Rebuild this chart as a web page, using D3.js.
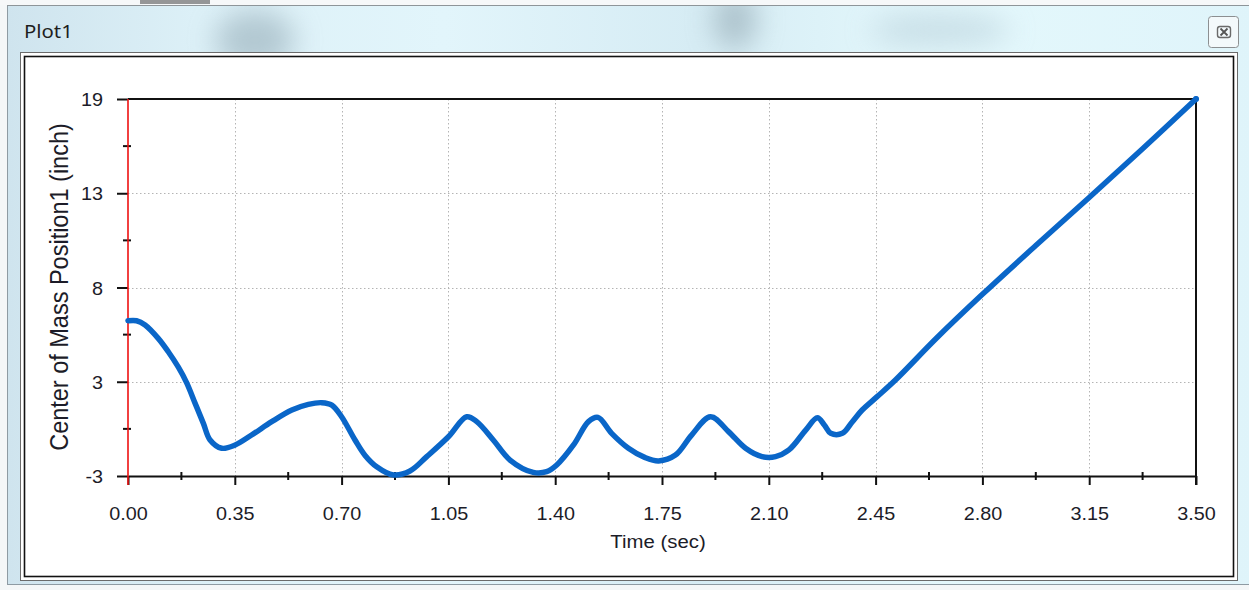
<!DOCTYPE html>
<html><head><meta charset="utf-8">
<script src="https://cdn.jsdelivr.net/npm/d3@7/dist/d3.min.js"></script>
<style>html,body{margin:0;padding:0;background:#fff;overflow:hidden}</style>
</head><body><svg id="c" width="1249" height="590"></svg>
<script>
// ---- data ----
const timeSec = [0.000,0.028,0.056,0.099,0.132,0.165,0.192,0.220,0.247,0.269,0.307,0.351,0.405,0.471,0.537,0.591,0.635,0.668,0.700,0.744,0.777,0.815,0.870,0.924,0.979,1.050,1.110,1.143,1.197,1.252,1.328,1.372,1.405,1.460,1.509,1.540,1.585,1.640,1.695,1.739,1.794,1.847,1.909,1.968,2.024,2.078,2.122,2.166,2.221,2.259,2.282,2.303,2.341,2.374,2.406,2.455,2.515,2.650,2.800,2.975,3.150,3.325,3.500];
const comPosition = [6.06,6.06,5.81,5.03,4.25,3.35,2.45,1.24,0.07,-0.90,-1.38,-1.19,-0.61,0.17,0.85,1.18,1.28,1.14,0.46,-0.90,-1.80,-2.46,-2.94,-2.71,-1.87,-0.71,0.46,0.17,-0.90,-2.07,-2.79,-2.75,-2.36,-1.19,0.17,0.42,-0.51,-1.38,-1.93,-2.12,-1.78,-0.61,0.46,-0.41,-1.38,-1.87,-1.87,-1.48,-0.32,0.40,-0.02,-0.51,-0.51,0.17,0.85,1.63,2.60,5.05,7.60,10.45,13.25,16.10,19.00];
const xTickValues = [0,0.35,0.70,1.05,1.40,1.75,2.10,2.45,2.80,3.15,3.50];
const xTickLabels = ["0.00","0.35","0.70","1.05","1.40","1.75","2.10","2.45","2.80","3.15","3.50"];
const yTickValues = [19,13.5,8,2.5,-3];
const yTickLabels = ["19","13","8","3","-3"];
const windowTitle = "Plot1";
const xTitle = "Time (sec)";
const yTitle = "Center of Mass Position1 (inch)";

// ---- drawing ----
const svg = d3.select("#c");
const W = 1249, H = 590;
const FONT = "Arial, 'Liberation Sans', sans-serif";
const SX = 1.1; // horizontal stretch of the screenshot text

const defs = svg.append("defs");
const g1 = defs.append("linearGradient").attr("id","glass").attr("x1",0).attr("x2",1).attr("y1",0).attr("y2",0);
[[0,"#cfe4ee"],[0.15,"#dcf0f7"],[0.35,"#e2f5fb"],[0.55,"#d6ecf4"],[0.75,"#e4f8fc"],[1,"#dff4fa"]]
  .forEach(([o,c])=>g1.append("stop").attr("offset",o).attr("stop-color",c));
defs.append("filter").attr("id","blur").attr("x","-50%").attr("y","-50%").attr("width","200%").attr("height","200%")
  .append("feGaussianBlur").attr("stdDeviation",14);

svg.append("rect").attr("width",W).attr("height",H).attr("fill","#f4f7f8");
// window frame
svg.append("rect").attr("x",7.5).attr("y",5.5).attr("width",W).attr("height",579).attr("fill","url(#glass)").attr("stroke","#8e9ba3");
const blobs = svg.append("g").attr("filter","url(#blur)").attr("opacity",0.55);
blobs.append("ellipse").attr("cx",255).attr("cy",40).attr("rx",40).attr("ry",30).attr("fill","#90a7b3");
blobs.append("ellipse").attr("cx",735).attr("cy",20).attr("rx",22).attr("ry",30).attr("fill","#8aa0ab");
blobs.append("ellipse").attr("cx",940).attr("cy",30).attr("rx",70).attr("ry",18).attr("fill","#b5cdd8");
svg.append("rect").attr("x",0).attr("y",0).attr("width",W).attr("height",5).attr("fill","#f6f8f9");
svg.append("rect").attr("x",140).attr("y",0).attr("width",70).attr("height",4).attr("fill","#555").attr("opacity",0.6);
svg.append("line").attr("x1",7).attr("x2",W).attr("y1",5.5).attr("y2",5.5).attr("stroke","#8e9599");

// title
svg.append("text").attr("transform",`translate(24,38) scale(${SX},1)`)
  .attr("font-family","'Segoe UI', 'Noto Sans', Arial, sans-serif").attr("font-size",18.5).attr("fill","#1e1e1e").text(windowTitle);

// close button
const cb = svg.append("g");
cb.append("rect").attr("x",1208.5).attr("y",16.5).attr("width",30).attr("height",31).attr("rx",3)
  .attr("fill","#f3f9fb").attr("stroke","#8c8f91");
cb.append("rect").attr("x",1217.5).attr("y",26.5).attr("width",13).attr("height",11).attr("rx",2.5)
  .attr("fill","none").attr("stroke","#6a6a6a").attr("stroke-width",1.4);
cb.append("path").attr("d","M1220.5,28.5 L1227.5,35.5 M1227.5,28.5 L1220.5,35.5").attr("stroke","#555").attr("stroke-width",1.8);

// panel with double border
svg.append("rect").attr("x",20.5).attr("y",52.5).attr("width",1217).attr("height",528).attr("fill","#fff").attr("stroke","#6b6b6b");
svg.append("rect").attr("x",24.5).attr("y",56.5).attr("width",1209).attr("height",520).attr("fill","#fff").attr("stroke","#111").attr("stroke-width",1.6);

// scales
const x = d3.scaleLinear().domain([0,3.5]).range([128,1196]);
const y = d3.scaleLinear().domain([-3,19]).range([476,99]);

// grid
const grid = svg.append("g").attr("stroke","#b4b4b4").attr("stroke-width",1).attr("stroke-dasharray","1.5,2.5");
grid.selectAll("line.v").data(xTickValues.slice(1,-1)).join("line")
  .attr("x1",d=>Math.round(x(d))+0.5).attr("x2",d=>Math.round(x(d))+0.5).attr("y1",y(19)).attr("y2",y(-3));
grid.selectAll("line.h").data(yTickValues.slice(1,-1)).join("line")
  .attr("y1",d=>Math.round(y(d))+0.5).attr("y2",d=>Math.round(y(d))+0.5).attr("x1",x(0)).attr("x2",x(3.5));

// minor ticks (midpoints)
const xMinor = xTickValues.slice(0,-1).map((v,i)=>(v+xTickValues[i+1])/2);
const yMinor = yTickValues.slice(0,-1).map((v,i)=>(v+yTickValues[i+1])/2);

// x axis
const xAxis = svg.append("g").attr("transform",`translate(0,${y(-3)})`)
  .call(d3.axisBottom(x).tickValues(xTickValues).tickSize(9).tickFormat((d,i)=>xTickLabels[i]).tickSizeOuter(0));
xAxis.select(".domain").attr("stroke","#111").attr("stroke-width",2);
xAxis.selectAll(".tick line").attr("stroke","#111").attr("stroke-width",2);
xAxis.selectAll(".tick text").attr("font-family",FONT).attr("font-size",18).attr("fill","#1c1c28")
  .attr("y",0).attr("dy",0).attr("transform",`translate(0,44) scale(${SX},1)`);
svg.append("g").selectAll("line").data(xMinor).join("line")
  .attr("x1",d=>x(d)).attr("x2",d=>x(d)).attr("y1",y(-3)-4).attr("y2",y(-3)+4).attr("stroke","#111").attr("stroke-width",2);

// y axis
const yAxis = svg.append("g").attr("transform",`translate(${x(0)},0)`)
  .call(d3.axisLeft(y).tickValues(yTickValues).tickSize(11).tickFormat((d,i)=>yTickLabels[i]).tickSizeOuter(0));
yAxis.select(".domain").remove();
yAxis.selectAll(".tick line").attr("stroke","#111").attr("stroke-width",2);
yAxis.selectAll(".tick text").attr("font-family",FONT).attr("font-size",18).attr("fill","#1c1c28")
  .attr("x",0).attr("dy",0).attr("text-anchor","end").attr("transform",`translate(-25,6.5) scale(${SX},1)`);
svg.append("g").selectAll("line").data(yMinor).join("line")
  .attr("y1",d=>y(d)).attr("y2",d=>y(d)).attr("x1",x(0)-5).attr("x2",x(0)+3).attr("stroke","#111").attr("stroke-width",2);

// top and right border
svg.append("line").attr("x1",x(0)).attr("x2",x(3.5)).attr("y1",y(19)).attr("y2",y(19)).attr("stroke","#111").attr("stroke-width",2);
svg.append("line").attr("x1",x(3.5)).attr("x2",x(3.5)).attr("y1",y(19)).attr("y2",y(-3)+9).attr("stroke","#111").attr("stroke-width",2);
// red y axis line
svg.append("line").attr("x1",x(0)).attr("x2",x(0)).attr("y1",y(19)).attr("y2",y(-3)+9).attr("stroke","#ee1111").attr("stroke-width",1.6);

// axis titles
svg.append("text").attr("transform",`translate(658,548) scale(${SX},1)`).attr("text-anchor","middle")
  .attr("font-family",FONT).attr("font-size",18.5).attr("fill","#1c1c28").text(xTitle);
svg.append("text").attr("transform",`translate(68,287) rotate(-90) scale(1,${SX})`).attr("text-anchor","middle")
  .attr("font-family",FONT).attr("font-size",23.5).attr("fill","#1c1c28").text(yTitle);

// data curve
const pts = timeSec.map((t,i)=>[t,comPosition[i]]);
const line = d3.line().x(d=>x(d[0])).y(d=>y(d[1])).curve(d3.curveCatmullRom.alpha(0.5));
svg.append("path").datum(pts).attr("d",line).attr("fill","none").attr("stroke","#0a66c8")
  .attr("stroke-width",5.5).attr("stroke-linejoin","round").attr("stroke-linecap","round");
svg.append("circle").attr("cx",x(3.5)).attr("cy",y(19)).attr("r",3).attr("fill","#0a66c8");
</script></body></html>
